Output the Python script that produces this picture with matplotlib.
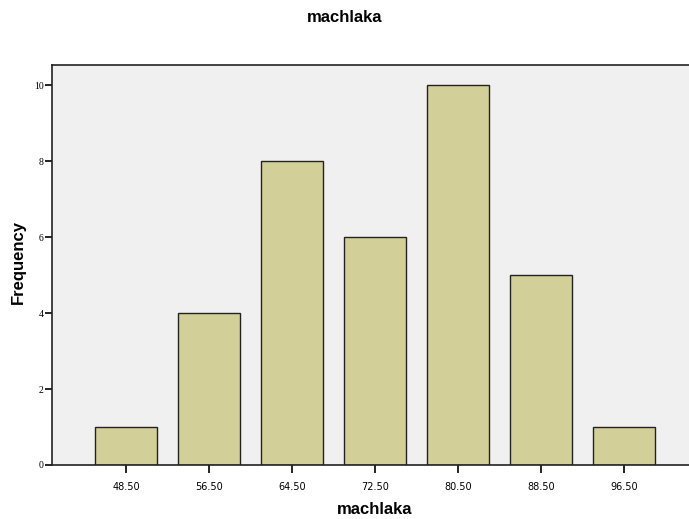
import numpy as np
import matplotlib.pyplot as plt

# bin centres and counts
centers = [48.5, 56.5, 64.5, 72.5, 80.5, 88.5, 96.5]
counts = [1, 4, 8, 6, 10, 5, 1]
xlabels = ["48.50", "56.50", "64.50", "72.50", "80.50", "88.50", "96.50"]
yticks = [0, 2, 4, 6, 8, 10]

fig = plt.figure(figsize=(6.89, 5.19), dpi=100)
ax = fig.add_axes([52 / 689, 54 / 519, 1 - 52 / 689, (465 - 65) / 519])
ax.set_facecolor("#f0f0f0")

ax.bar(centers, counts, width=6.0, color="#d3cf98", edgecolor="#222222", linewidth=1.0, zorder=2)

ax.set_xlim(41.37, 102.77)
ax.set_ylim(0, 10.53)
ax.set_xticks(centers)
ax.set_xticklabels(xlabels, fontsize=7, family="DejaVu Sans")
ax.set_yticks(yticks)
ax.set_yticklabels([str(v) for v in yticks], fontsize=7, family="Liberation Serif")

ax.spines["right"].set_visible(False)
for s in ["left", "bottom", "top"]:
    ax.spines[s].set_linewidth(1.2)
    ax.spines[s].set_color("#222222")
ax.tick_params(axis="x", length=6, width=1.2, pad=6)
ax.tick_params(axis="y", length=5, width=1.2, pad=1)

fig.text(345 / 689, 1 - 18 / 519, "machlaka", ha="center", va="center",
         fontsize=12, fontweight="bold", family="Liberation Sans")
fig.text(18 / 689, 1 - 262 / 519, "Frequency", ha="center", va="center", rotation=90,
         fontsize=12, fontweight="bold", family="Liberation Sans")
fig.text(375 / 689, 1 - 509 / 519, "machlaka", ha="center", va="center",
         fontsize=12, fontweight="bold", family="Liberation Sans")

fig.savefig("out.png", dpi=100)
